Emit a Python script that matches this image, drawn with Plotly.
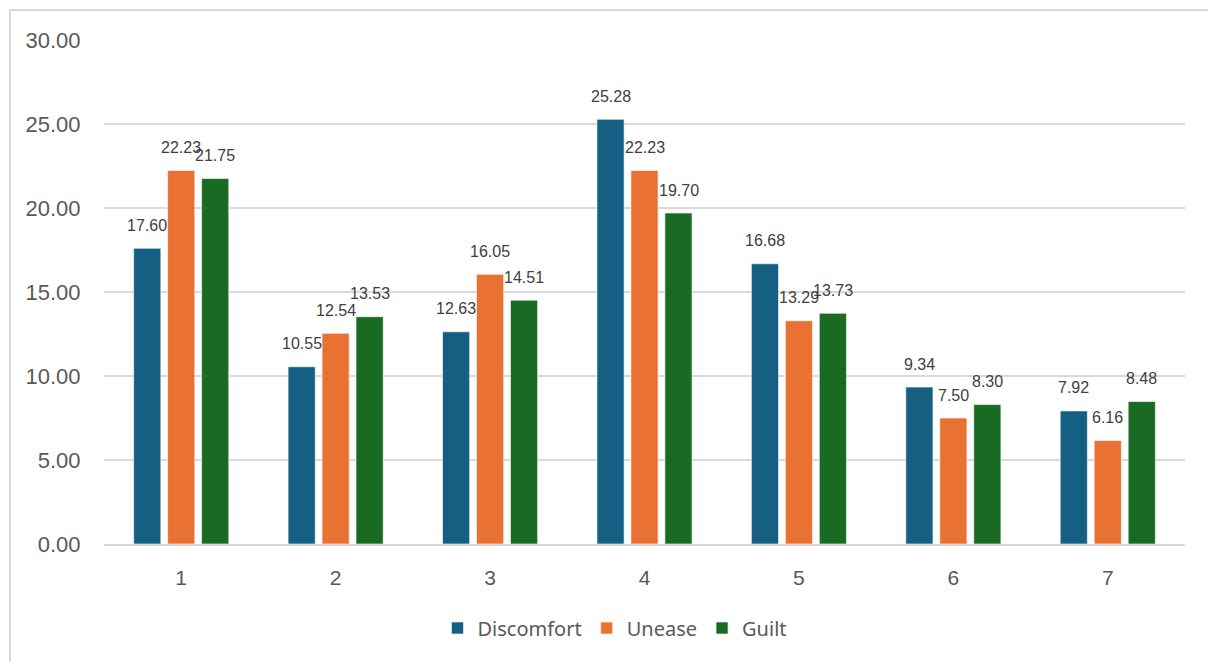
import plotly.graph_objects as go

categories = ["1", "2", "3", "4", "5", "6", "7"]
discomfort = [17.60, 10.55, 12.63, 25.28, 16.68, 9.34, 7.92]
unease = [22.23, 12.54, 16.05, 22.23, 13.29, 7.50, 6.16]
guilt = [21.75, 13.53, 14.51, 19.70, 13.73, 8.30, 8.48]

series = [
    ("Discomfort", discomfort, "#156082"),
    ("Unease", unease, "#E97132"),
    ("Guilt", guilt, "#196B24"),
]

W, H = 1208, 662
L, R, T, B = 104, 23, 40, 118
plot_w = W - L - R
plot_h = H - T - B

fig = go.Figure()
for name, vals, color in series:
    fig.add_trace(go.Bar(
        name=name, x=categories, y=vals,
        marker=dict(color=color, line=dict(color="rgba(255,255,255,0.6)", width=1)),
        offsetgroup=name,
    ))

# value labels above each bar (x given as category index)
step = 34
annotations = []
for i, (name, vals, color) in enumerate(series):
    for j, v in enumerate(vals):
        annotations.append(dict(
            x=j, y=v, xref="x", yref="y", text=f"{v:.2f}", showarrow=False,
            xshift=(i - 1) * step, yshift=23, yanchor="middle",
            font=dict(family="Liberation Sans, Arial", size=16, color="#404040"),
        ))

# outer chart frame
def px_x(p):
    return (p - L) / plot_w

def px_y(p):
    return (H - B - p) / plot_h

fig.add_shape(type="rect", xref="paper", yref="paper",
              x0=px_x(10), x1=px_x(1216), y0=px_y(670), y1=px_y(10),
              line=dict(color="#d9d9d9", width=2), fillcolor="rgba(0,0,0,0)", layer="below")

fig.update_layout(
    width=W, height=H,
    margin=dict(l=L, r=R, t=T, b=B, pad=0),
    paper_bgcolor="white", plot_bgcolor="white",
    barmode="group", bargap=0.34, bargroupgap=0.2,
    annotations=annotations,
    showlegend=True,
    legend=dict(orientation="h", x=px_x(615), xanchor="center", y=px_y(628), yanchor="middle",
                font=dict(family="Noto Sans", size=20, color="#595959"),
                itemwidth=30, traceorder="normal"),
    font=dict(family="Liberation Sans, Arial", color="#595959"),
)
fig.update_yaxes(range=[0, 30], dtick=5, tickformat=".2f",
                 showgrid=True, gridcolor="#d9d9d9", gridwidth=1.5,
                 zeroline=False, showline=False,
                 ticks="outside", ticklen=18, tickcolor="rgba(0,0,0,0)",
                 tickfont=dict(family="Liberation Sans, Arial", size=22, color="#595959"))
fig.update_xaxes(type="category", categoryorder="array", categoryarray=categories,
                 showline=True, linecolor="#d9d9d9", linewidth=2,
                 showgrid=False,
                 ticks="outside", ticklen=14, tickcolor="rgba(0,0,0,0)",
                 tickfont=dict(family="Liberation Sans, Arial", size=21, color="#595959"))

fig.write_html("out.html")
